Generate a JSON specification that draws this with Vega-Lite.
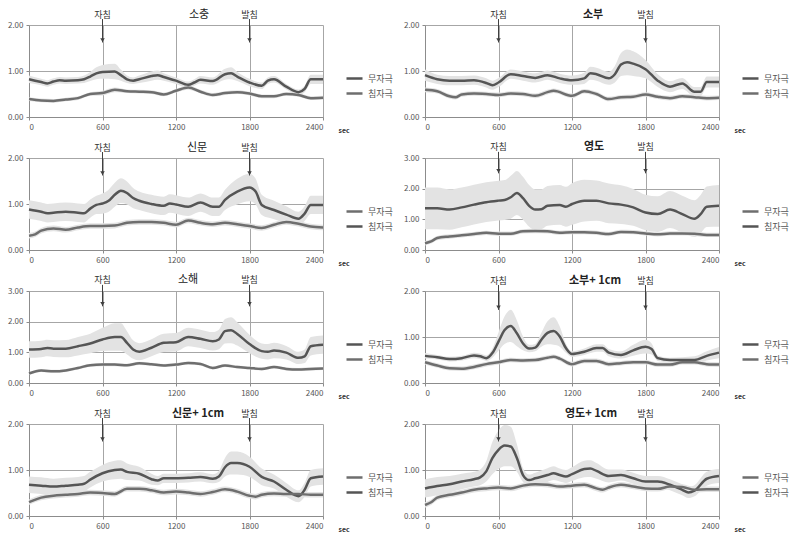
{
"$schema":"https://vega.github.io/schema/vega-lite/v6.json",
"padding":{"left":7,"top":8,"right":0,"bottom":0},
"background":"white",
"datasets":{
"ann":[{"t":600,"label":"자침"},{"t":1800,"label":"발침"}],
"d":[
{"p":1,"s":"무자극","t":0,"v":0.82,"e":0.08},{"p":1,"s":"무자극","t":100,"v":0.76,"e":0.07},{"p":1,"s":"무자극","t":150,"v":0.73,"e":0.07},{"p":1,"s":"무자극","t":200,"v":0.77,"e":0.07},{"p":1,"s":"무자극","t":250,"v":0.8,"e":0.07},{"p":1,"s":"무자극","t":300,"v":0.79,"e":0.07},{"p":1,"s":"무자극","t":400,"v":0.8,"e":0.07},{"p":1,"s":"무자극","t":450,"v":0.82,"e":0.08},{"p":1,"s":"무자극","t":500,"v":0.88,"e":0.1},{"p":1,"s":"무자극","t":550,"v":0.95,"e":0.13},{"p":1,"s":"무자극","t":600,"v":0.98,"e":0.15},{"p":1,"s":"무자극","t":700,"v":0.99,"e":0.17},{"p":1,"s":"무자극","t":750,"v":0.91,"e":0.12},{"p":1,"s":"무자극","t":800,"v":0.82,"e":0.08},{"p":1,"s":"무자극","t":850,"v":0.79,"e":0.07},{"p":1,"s":"무자극","t":900,"v":0.82,"e":0.08},{"p":1,"s":"무자극","t":1000,"v":0.89,"e":0.1},{"p":1,"s":"무자극","t":1050,"v":0.91,"e":0.1},{"p":1,"s":"무자극","t":1100,"v":0.87,"e":0.08},{"p":1,"s":"무자극","t":1200,"v":0.79,"e":0.07},{"p":1,"s":"무자극","t":1300,"v":0.7,"e":0.07},{"p":1,"s":"무자극","t":1350,"v":0.75,"e":0.07},{"p":1,"s":"무자극","t":1400,"v":0.81,"e":0.08},{"p":1,"s":"무자극","t":1500,"v":0.78,"e":0.08},{"p":1,"s":"무자극","t":1600,"v":0.93,"e":0.12},{"p":1,"s":"무자극","t":1650,"v":0.95,"e":0.13},{"p":1,"s":"무자극","t":1700,"v":0.88,"e":0.1},{"p":1,"s":"무자극","t":1800,"v":0.75,"e":0.08},{"p":1,"s":"무자극","t":1900,"v":0.68,"e":0.07},{"p":1,"s":"무자극","t":1950,"v":0.79,"e":0.07},{"p":1,"s":"무자극","t":2000,"v":0.82,"e":0.07},{"p":1,"s":"무자극","t":2100,"v":0.66,"e":0.06},{"p":1,"s":"무자극","t":2200,"v":0.54,"e":0.06},{"p":1,"s":"무자극","t":2250,"v":0.61,"e":0.07},{"p":1,"s":"무자극","t":2300,"v":0.82,"e":0.1},{"p":1,"s":"무자극","t":2400,"v":0.82,"e":0.1},
{"p":1,"s":"침자극","t":0,"v":0.39,"e":0.04},{"p":1,"s":"침자극","t":100,"v":0.36,"e":0.04},{"p":1,"s":"침자극","t":200,"v":0.35,"e":0.04},{"p":1,"s":"침자극","t":300,"v":0.38,"e":0.04},{"p":1,"s":"침자극","t":400,"v":0.41,"e":0.04},{"p":1,"s":"침자극","t":500,"v":0.5,"e":0.04},{"p":1,"s":"침자극","t":600,"v":0.52,"e":0.05},{"p":1,"s":"침자극","t":700,"v":0.59,"e":0.05},{"p":1,"s":"침자극","t":800,"v":0.56,"e":0.04},{"p":1,"s":"침자극","t":900,"v":0.55,"e":0.04},{"p":1,"s":"침자극","t":1000,"v":0.54,"e":0.04},{"p":1,"s":"침자극","t":1100,"v":0.49,"e":0.04},{"p":1,"s":"침자극","t":1200,"v":0.57,"e":0.04},{"p":1,"s":"침자극","t":1300,"v":0.64,"e":0.05},{"p":1,"s":"침자극","t":1400,"v":0.55,"e":0.04},{"p":1,"s":"침자극","t":1500,"v":0.48,"e":0.04},{"p":1,"s":"침자극","t":1600,"v":0.52,"e":0.04},{"p":1,"s":"침자극","t":1700,"v":0.54,"e":0.04},{"p":1,"s":"침자극","t":1800,"v":0.51,"e":0.04},{"p":1,"s":"침자극","t":1900,"v":0.45,"e":0.04},{"p":1,"s":"침자극","t":2000,"v":0.45,"e":0.04},{"p":1,"s":"침자극","t":2100,"v":0.5,"e":0.04},{"p":1,"s":"침자극","t":2200,"v":0.48,"e":0.04},{"p":1,"s":"침자극","t":2300,"v":0.41,"e":0.04},{"p":1,"s":"침자극","t":2400,"v":0.42,"e":0.04},
{"p":2,"s":"무자극","t":0,"v":0.91,"e":0.12},{"p":2,"s":"무자극","t":100,"v":0.82,"e":0.1},{"p":2,"s":"무자극","t":200,"v":0.79,"e":0.1},{"p":2,"s":"무자극","t":300,"v":0.79,"e":0.1},{"p":2,"s":"무자극","t":400,"v":0.8,"e":0.1},{"p":2,"s":"무자극","t":500,"v":0.74,"e":0.1},{"p":2,"s":"무자극","t":550,"v":0.69,"e":0.1},{"p":2,"s":"무자극","t":600,"v":0.75,"e":0.1},{"p":2,"s":"무자극","t":700,"v":0.93,"e":0.1},{"p":2,"s":"무자극","t":800,"v":0.89,"e":0.1},{"p":2,"s":"무자극","t":900,"v":0.85,"e":0.1},{"p":2,"s":"무자극","t":1000,"v":0.91,"e":0.1},{"p":2,"s":"무자극","t":1100,"v":0.84,"e":0.1},{"p":2,"s":"무자극","t":1200,"v":0.8,"e":0.1},{"p":2,"s":"무자극","t":1300,"v":0.84,"e":0.12},{"p":2,"s":"무자극","t":1350,"v":0.95,"e":0.14},{"p":2,"s":"무자극","t":1400,"v":0.93,"e":0.14},{"p":2,"s":"무자극","t":1500,"v":0.84,"e":0.14},{"p":2,"s":"무자극","t":1550,"v":0.93,"e":0.18},{"p":2,"s":"무자극","t":1600,"v":1.14,"e":0.25},{"p":2,"s":"무자극","t":1650,"v":1.19,"e":0.28},{"p":2,"s":"무자극","t":1700,"v":1.16,"e":0.27},{"p":2,"s":"무자극","t":1800,"v":1.04,"e":0.2},{"p":2,"s":"무자극","t":1900,"v":0.79,"e":0.14},{"p":2,"s":"무자극","t":2000,"v":0.66,"e":0.12},{"p":2,"s":"무자극","t":2100,"v":0.73,"e":0.12},{"p":2,"s":"무자극","t":2200,"v":0.55,"e":0.1},{"p":2,"s":"무자극","t":2250,"v":0.55,"e":0.1},{"p":2,"s":"무자극","t":2300,"v":0.76,"e":0.12},{"p":2,"s":"무자극","t":2400,"v":0.76,"e":0.12},
{"p":2,"s":"침자극","t":0,"v":0.59,"e":0.05},{"p":2,"s":"침자극","t":100,"v":0.56,"e":0.05},{"p":2,"s":"침자극","t":200,"v":0.45,"e":0.05},{"p":2,"s":"침자극","t":250,"v":0.43,"e":0.05},{"p":2,"s":"침자극","t":300,"v":0.49,"e":0.05},{"p":2,"s":"침자극","t":400,"v":0.51,"e":0.05},{"p":2,"s":"침자극","t":500,"v":0.5,"e":0.05},{"p":2,"s":"침자극","t":600,"v":0.48,"e":0.05},{"p":2,"s":"침자극","t":700,"v":0.51,"e":0.05},{"p":2,"s":"침자극","t":800,"v":0.5,"e":0.05},{"p":2,"s":"침자극","t":900,"v":0.46,"e":0.05},{"p":2,"s":"침자극","t":1000,"v":0.54,"e":0.05},{"p":2,"s":"침자극","t":1050,"v":0.57,"e":0.05},{"p":2,"s":"침자극","t":1200,"v":0.46,"e":0.05},{"p":2,"s":"침자극","t":1300,"v":0.56,"e":0.05},{"p":2,"s":"침자극","t":1400,"v":0.5,"e":0.05},{"p":2,"s":"침자극","t":1500,"v":0.39,"e":0.05},{"p":2,"s":"침자극","t":1600,"v":0.43,"e":0.05},{"p":2,"s":"침자극","t":1700,"v":0.44,"e":0.05},{"p":2,"s":"침자극","t":1800,"v":0.49,"e":0.05},{"p":2,"s":"침자극","t":1900,"v":0.44,"e":0.05},{"p":2,"s":"침자극","t":2000,"v":0.41,"e":0.05},{"p":2,"s":"침자극","t":2100,"v":0.45,"e":0.05},{"p":2,"s":"침자극","t":2200,"v":0.43,"e":0.05},{"p":2,"s":"침자극","t":2300,"v":0.41,"e":0.05},{"p":2,"s":"침자극","t":2400,"v":0.42,"e":0.05},
{"p":3,"s":"침자극","t":0,"v":0.88,"e":0.2},{"p":3,"s":"침자극","t":100,"v":0.83,"e":0.2},{"p":3,"s":"침자극","t":150,"v":0.8,"e":0.2},{"p":3,"s":"침자극","t":200,"v":0.81,"e":0.2},{"p":3,"s":"침자극","t":300,"v":0.83,"e":0.2},{"p":3,"s":"침자극","t":400,"v":0.81,"e":0.2},{"p":3,"s":"침자극","t":450,"v":0.8,"e":0.2},{"p":3,"s":"침자극","t":500,"v":0.9,"e":0.2},{"p":3,"s":"침자극","t":550,"v":0.98,"e":0.2},{"p":3,"s":"침자극","t":600,"v":1.01,"e":0.22},{"p":3,"s":"침자극","t":650,"v":1.07,"e":0.24},{"p":3,"s":"침자극","t":700,"v":1.2,"e":0.26},{"p":3,"s":"침자극","t":750,"v":1.29,"e":0.27},{"p":3,"s":"침자극","t":800,"v":1.24,"e":0.25},{"p":3,"s":"침자극","t":850,"v":1.13,"e":0.22},{"p":3,"s":"침자극","t":900,"v":1.07,"e":0.2},{"p":3,"s":"침자극","t":1000,"v":1.0,"e":0.2},{"p":3,"s":"침자극","t":1100,"v":0.96,"e":0.2},{"p":3,"s":"침자극","t":1150,"v":1.01,"e":0.2},{"p":3,"s":"침자극","t":1200,"v":0.99,"e":0.2},{"p":3,"s":"침자극","t":1300,"v":0.94,"e":0.2},{"p":3,"s":"침자극","t":1400,"v":1.03,"e":0.2},{"p":3,"s":"침자극","t":1500,"v":0.94,"e":0.2},{"p":3,"s":"침자극","t":1550,"v":0.94,"e":0.2},{"p":3,"s":"침자극","t":1600,"v":1.09,"e":0.22},{"p":3,"s":"침자극","t":1700,"v":1.27,"e":0.28},{"p":3,"s":"침자극","t":1800,"v":1.36,"e":0.3},{"p":3,"s":"침자극","t":1850,"v":1.27,"e":0.28},{"p":3,"s":"침자극","t":1900,"v":0.98,"e":0.22},{"p":3,"s":"침자극","t":2000,"v":0.87,"e":0.2},{"p":3,"s":"침자극","t":2100,"v":0.77,"e":0.18},{"p":3,"s":"침자극","t":2200,"v":0.68,"e":0.15},{"p":3,"s":"침자극","t":2250,"v":0.79,"e":0.16},{"p":3,"s":"침자극","t":2300,"v":0.98,"e":0.2},{"p":3,"s":"침자극","t":2400,"v":0.98,"e":0.2},
{"p":3,"s":"무자극","t":0,"v":0.31,"e":0.06},{"p":3,"s":"무자극","t":50,"v":0.34,"e":0.06},{"p":3,"s":"무자극","t":100,"v":0.42,"e":0.06},{"p":3,"s":"무자극","t":200,"v":0.47,"e":0.06},{"p":3,"s":"무자극","t":300,"v":0.44,"e":0.06},{"p":3,"s":"무자극","t":400,"v":0.49,"e":0.06},{"p":3,"s":"무자극","t":500,"v":0.52,"e":0.06},{"p":3,"s":"무자극","t":600,"v":0.52,"e":0.06},{"p":3,"s":"무자극","t":700,"v":0.53,"e":0.06},{"p":3,"s":"무자극","t":800,"v":0.59,"e":0.06},{"p":3,"s":"무자극","t":900,"v":0.61,"e":0.06},{"p":3,"s":"무자극","t":1000,"v":0.61,"e":0.06},{"p":3,"s":"무자극","t":1100,"v":0.59,"e":0.06},{"p":3,"s":"무자극","t":1200,"v":0.55,"e":0.06},{"p":3,"s":"무자극","t":1300,"v":0.64,"e":0.06},{"p":3,"s":"무자극","t":1400,"v":0.59,"e":0.06},{"p":3,"s":"무자극","t":1500,"v":0.56,"e":0.06},{"p":3,"s":"무자극","t":1600,"v":0.59,"e":0.06},{"p":3,"s":"무자극","t":1700,"v":0.56,"e":0.06},{"p":3,"s":"무자극","t":1800,"v":0.52,"e":0.06},{"p":3,"s":"무자극","t":1900,"v":0.48,"e":0.06},{"p":3,"s":"무자극","t":2000,"v":0.55,"e":0.06},{"p":3,"s":"무자극","t":2100,"v":0.61,"e":0.06},{"p":3,"s":"무자극","t":2200,"v":0.57,"e":0.06},{"p":3,"s":"무자극","t":2300,"v":0.51,"e":0.06},{"p":3,"s":"무자극","t":2400,"v":0.49,"e":0.06},
{"p":4,"s":"침자극","t":0,"v":1.36,"e":0.68},{"p":4,"s":"침자극","t":100,"v":1.36,"e":0.68},{"p":4,"s":"침자극","t":200,"v":1.32,"e":0.66},{"p":4,"s":"침자극","t":300,"v":1.39,"e":0.65},{"p":4,"s":"침자극","t":400,"v":1.48,"e":0.65},{"p":4,"s":"침자극","t":500,"v":1.56,"e":0.65},{"p":4,"s":"침자극","t":600,"v":1.61,"e":0.65},{"p":4,"s":"침자극","t":650,"v":1.63,"e":0.65},{"p":4,"s":"침자극","t":700,"v":1.72,"e":0.7},{"p":4,"s":"침자극","t":750,"v":1.86,"e":0.72},{"p":4,"s":"침자극","t":800,"v":1.69,"e":0.7},{"p":4,"s":"침자극","t":850,"v":1.44,"e":0.68},{"p":4,"s":"침자극","t":900,"v":1.32,"e":0.66},{"p":4,"s":"침자극","t":950,"v":1.33,"e":0.65},{"p":4,"s":"침자극","t":1000,"v":1.44,"e":0.65},{"p":4,"s":"침자극","t":1100,"v":1.47,"e":0.65},{"p":4,"s":"침자극","t":1150,"v":1.41,"e":0.65},{"p":4,"s":"침자극","t":1200,"v":1.5,"e":0.68},{"p":4,"s":"침자극","t":1300,"v":1.61,"e":0.68},{"p":4,"s":"침자극","t":1400,"v":1.61,"e":0.66},{"p":4,"s":"침자극","t":1500,"v":1.52,"e":0.65},{"p":4,"s":"침자극","t":1600,"v":1.48,"e":0.63},{"p":4,"s":"침자극","t":1700,"v":1.39,"e":0.6},{"p":4,"s":"침자극","t":1800,"v":1.22,"e":0.58},{"p":4,"s":"침자극","t":1900,"v":1.17,"e":0.58},{"p":4,"s":"침자극","t":2000,"v":1.32,"e":0.6},{"p":4,"s":"침자극","t":2100,"v":1.17,"e":0.6},{"p":4,"s":"침자극","t":2200,"v":1.02,"e":0.6},{"p":4,"s":"침자극","t":2250,"v":1.17,"e":0.62},{"p":4,"s":"침자극","t":2300,"v":1.41,"e":0.66},{"p":4,"s":"침자극","t":2400,"v":1.44,"e":0.68},
{"p":4,"s":"무자극","t":0,"v":0.22,"e":0.07},{"p":4,"s":"무자극","t":50,"v":0.28,"e":0.07},{"p":4,"s":"무자극","t":100,"v":0.39,"e":0.07},{"p":4,"s":"무자극","t":200,"v":0.44,"e":0.07},{"p":4,"s":"무자극","t":300,"v":0.48,"e":0.07},{"p":4,"s":"무자극","t":400,"v":0.52,"e":0.07},{"p":4,"s":"무자극","t":500,"v":0.56,"e":0.07},{"p":4,"s":"무자극","t":600,"v":0.53,"e":0.07},{"p":4,"s":"무자극","t":700,"v":0.53,"e":0.07},{"p":4,"s":"무자극","t":800,"v":0.61,"e":0.07},{"p":4,"s":"무자극","t":900,"v":0.62,"e":0.07},{"p":4,"s":"무자극","t":1000,"v":0.61,"e":0.07},{"p":4,"s":"무자극","t":1100,"v":0.56,"e":0.07},{"p":4,"s":"무자극","t":1200,"v":0.58,"e":0.07},{"p":4,"s":"무자극","t":1300,"v":0.58,"e":0.07},{"p":4,"s":"무자극","t":1400,"v":0.56,"e":0.07},{"p":4,"s":"무자극","t":1500,"v":0.52,"e":0.07},{"p":4,"s":"무자극","t":1600,"v":0.59,"e":0.07},{"p":4,"s":"무자극","t":1700,"v":0.58,"e":0.07},{"p":4,"s":"무자극","t":1800,"v":0.54,"e":0.07},{"p":4,"s":"무자극","t":1900,"v":0.51,"e":0.07},{"p":4,"s":"무자극","t":2000,"v":0.54,"e":0.07},{"p":4,"s":"무자극","t":2100,"v":0.54,"e":0.07},{"p":4,"s":"무자극","t":2200,"v":0.53,"e":0.07},{"p":4,"s":"무자극","t":2300,"v":0.49,"e":0.07},{"p":4,"s":"무자극","t":2400,"v":0.49,"e":0.07},
{"p":5,"s":"무자극","t":0,"v":1.09,"e":0.27},{"p":5,"s":"무자극","t":100,"v":1.11,"e":0.27},{"p":5,"s":"무자극","t":150,"v":1.14,"e":0.27},{"p":5,"s":"무자극","t":200,"v":1.12,"e":0.27},{"p":5,"s":"무자극","t":300,"v":1.12,"e":0.28},{"p":5,"s":"무자극","t":400,"v":1.2,"e":0.3},{"p":5,"s":"무자극","t":500,"v":1.29,"e":0.32},{"p":5,"s":"무자극","t":600,"v":1.42,"e":0.38},{"p":5,"s":"무자극","t":700,"v":1.5,"e":0.45},{"p":5,"s":"무자극","t":750,"v":1.5,"e":0.45},{"p":5,"s":"무자극","t":800,"v":1.31,"e":0.38},{"p":5,"s":"무자극","t":850,"v":1.09,"e":0.3},{"p":5,"s":"무자극","t":900,"v":1.02,"e":0.28},{"p":5,"s":"무자극","t":1000,"v":1.15,"e":0.28},{"p":5,"s":"무자극","t":1100,"v":1.31,"e":0.3},{"p":5,"s":"무자극","t":1200,"v":1.33,"e":0.3},{"p":5,"s":"무자극","t":1300,"v":1.5,"e":0.3},{"p":5,"s":"무자극","t":1400,"v":1.44,"e":0.3},{"p":5,"s":"무자극","t":1500,"v":1.36,"e":0.3},{"p":5,"s":"무자극","t":1550,"v":1.42,"e":0.32},{"p":5,"s":"무자극","t":1600,"v":1.69,"e":0.4},{"p":5,"s":"무자극","t":1650,"v":1.72,"e":0.42},{"p":5,"s":"무자극","t":1700,"v":1.6,"e":0.38},{"p":5,"s":"무자극","t":1800,"v":1.27,"e":0.3},{"p":5,"s":"무자극","t":1900,"v":1.04,"e":0.25},{"p":5,"s":"무자극","t":1950,"v":1.02,"e":0.25},{"p":5,"s":"무자극","t":2000,"v":1.06,"e":0.25},{"p":5,"s":"무자극","t":2100,"v":0.99,"e":0.22},{"p":5,"s":"무자극","t":2200,"v":0.82,"e":0.2},{"p":5,"s":"무자극","t":2250,"v":0.87,"e":0.22},{"p":5,"s":"무자극","t":2300,"v":1.2,"e":0.3},{"p":5,"s":"무자극","t":2400,"v":1.25,"e":0.3},
{"p":5,"s":"침자극","t":0,"v":0.31,"e":0.05},{"p":5,"s":"침자극","t":100,"v":0.41,"e":0.05},{"p":5,"s":"침자극","t":200,"v":0.38,"e":0.05},{"p":5,"s":"침자극","t":300,"v":0.41,"e":0.05},{"p":5,"s":"침자극","t":400,"v":0.49,"e":0.05},{"p":5,"s":"침자극","t":500,"v":0.58,"e":0.05},{"p":5,"s":"침자극","t":600,"v":0.6,"e":0.05},{"p":5,"s":"침자극","t":700,"v":0.6,"e":0.05},{"p":5,"s":"침자극","t":800,"v":0.58,"e":0.05},{"p":5,"s":"침자극","t":900,"v":0.64,"e":0.05},{"p":5,"s":"침자극","t":1000,"v":0.61,"e":0.05},{"p":5,"s":"침자극","t":1100,"v":0.57,"e":0.05},{"p":5,"s":"침자극","t":1200,"v":0.6,"e":0.05},{"p":5,"s":"침자극","t":1300,"v":0.65,"e":0.05},{"p":5,"s":"침자극","t":1400,"v":0.62,"e":0.05},{"p":5,"s":"침자극","t":1500,"v":0.49,"e":0.05},{"p":5,"s":"침자극","t":1600,"v":0.57,"e":0.05},{"p":5,"s":"침자극","t":1700,"v":0.52,"e":0.05},{"p":5,"s":"침자극","t":1800,"v":0.49,"e":0.05},{"p":5,"s":"침자극","t":1900,"v":0.46,"e":0.05},{"p":5,"s":"침자극","t":2000,"v":0.52,"e":0.05},{"p":5,"s":"침자극","t":2100,"v":0.46,"e":0.05},{"p":5,"s":"침자극","t":2200,"v":0.44,"e":0.05},{"p":5,"s":"침자극","t":2300,"v":0.46,"e":0.05},{"p":5,"s":"침자극","t":2400,"v":0.47,"e":0.05},
{"p":6,"s":"무자극","t":0,"v":0.59,"e":0.06},{"p":6,"s":"무자극","t":100,"v":0.56,"e":0.05},{"p":6,"s":"무자극","t":200,"v":0.52,"e":0.05},{"p":6,"s":"무자극","t":300,"v":0.54,"e":0.05},{"p":6,"s":"무자극","t":400,"v":0.6,"e":0.06},{"p":6,"s":"무자극","t":450,"v":0.58,"e":0.06},{"p":6,"s":"무자극","t":500,"v":0.54,"e":0.06},{"p":6,"s":"무자극","t":550,"v":0.65,"e":0.1},{"p":6,"s":"무자극","t":600,"v":0.9,"e":0.2},{"p":6,"s":"무자극","t":650,"v":1.15,"e":0.3},{"p":6,"s":"무자극","t":700,"v":1.24,"e":0.35},{"p":6,"s":"무자극","t":750,"v":1.08,"e":0.28},{"p":6,"s":"무자극","t":800,"v":0.86,"e":0.15},{"p":6,"s":"무자극","t":850,"v":0.75,"e":0.08},{"p":6,"s":"무자극","t":900,"v":0.77,"e":0.08},{"p":6,"s":"무자극","t":950,"v":0.94,"e":0.15},{"p":6,"s":"무자극","t":1000,"v":1.09,"e":0.25},{"p":6,"s":"무자극","t":1050,"v":1.13,"e":0.3},{"p":6,"s":"무자극","t":1100,"v":1.01,"e":0.22},{"p":6,"s":"무자극","t":1150,"v":0.76,"e":0.1},{"p":6,"s":"무자극","t":1200,"v":0.63,"e":0.06},{"p":6,"s":"무자극","t":1300,"v":0.68,"e":0.07},{"p":6,"s":"무자극","t":1400,"v":0.76,"e":0.08},{"p":6,"s":"무자극","t":1450,"v":0.76,"e":0.08},{"p":6,"s":"무자극","t":1500,"v":0.66,"e":0.08},{"p":6,"s":"무자극","t":1600,"v":0.61,"e":0.08},{"p":6,"s":"무자극","t":1700,"v":0.71,"e":0.12},{"p":6,"s":"무자극","t":1800,"v":0.79,"e":0.15},{"p":6,"s":"무자극","t":1850,"v":0.74,"e":0.12},{"p":6,"s":"무자극","t":1900,"v":0.54,"e":0.06},{"p":6,"s":"무자극","t":2000,"v":0.5,"e":0.05},{"p":6,"s":"무자극","t":2100,"v":0.5,"e":0.06},{"p":6,"s":"무자극","t":2200,"v":0.5,"e":0.08},{"p":6,"s":"무자극","t":2300,"v":0.59,"e":0.1},{"p":6,"s":"무자극","t":2400,"v":0.66,"e":0.12},
{"p":6,"s":"침자극","t":0,"v":0.45,"e":0.05},{"p":6,"s":"침자극","t":100,"v":0.38,"e":0.05},{"p":6,"s":"침자극","t":200,"v":0.32,"e":0.05},{"p":6,"s":"침자극","t":300,"v":0.31,"e":0.05},{"p":6,"s":"침자극","t":400,"v":0.35,"e":0.05},{"p":6,"s":"침자극","t":500,"v":0.41,"e":0.05},{"p":6,"s":"침자극","t":600,"v":0.45,"e":0.05},{"p":6,"s":"침자극","t":700,"v":0.5,"e":0.05},{"p":6,"s":"침자극","t":800,"v":0.49,"e":0.05},{"p":6,"s":"침자극","t":900,"v":0.5,"e":0.05},{"p":6,"s":"침자극","t":1000,"v":0.55,"e":0.05},{"p":6,"s":"침자극","t":1050,"v":0.57,"e":0.05},{"p":6,"s":"침자극","t":1100,"v":0.53,"e":0.05},{"p":6,"s":"침자극","t":1200,"v":0.41,"e":0.05},{"p":6,"s":"침자극","t":1300,"v":0.48,"e":0.05},{"p":6,"s":"침자극","t":1400,"v":0.48,"e":0.05},{"p":6,"s":"침자극","t":1500,"v":0.41,"e":0.05},{"p":6,"s":"침자극","t":1600,"v":0.43,"e":0.05},{"p":6,"s":"침자극","t":1700,"v":0.45,"e":0.05},{"p":6,"s":"침자극","t":1800,"v":0.45,"e":0.05},{"p":6,"s":"침자극","t":1900,"v":0.4,"e":0.05},{"p":6,"s":"침자극","t":2000,"v":0.4,"e":0.05},{"p":6,"s":"침자극","t":2100,"v":0.45,"e":0.05},{"p":6,"s":"침자극","t":2200,"v":0.45,"e":0.05},{"p":6,"s":"침자극","t":2300,"v":0.41,"e":0.05},{"p":6,"s":"침자극","t":2400,"v":0.4,"e":0.05},
{"p":7,"s":"침자극","t":0,"v":0.68,"e":0.18},{"p":7,"s":"침자극","t":100,"v":0.66,"e":0.18},{"p":7,"s":"침자극","t":200,"v":0.64,"e":0.17},{"p":7,"s":"침자극","t":300,"v":0.66,"e":0.17},{"p":7,"s":"침자극","t":400,"v":0.68,"e":0.17},{"p":7,"s":"침자극","t":450,"v":0.7,"e":0.17},{"p":7,"s":"침자극","t":500,"v":0.79,"e":0.17},{"p":7,"s":"침자극","t":600,"v":0.93,"e":0.18},{"p":7,"s":"침자극","t":700,"v":1.0,"e":0.2},{"p":7,"s":"침자극","t":750,"v":1.01,"e":0.2},{"p":7,"s":"침자극","t":800,"v":0.96,"e":0.18},{"p":7,"s":"침자극","t":900,"v":0.92,"e":0.15},{"p":7,"s":"침자극","t":1000,"v":0.8,"e":0.12},{"p":7,"s":"침자극","t":1050,"v":0.77,"e":0.1},{"p":7,"s":"침자극","t":1100,"v":0.82,"e":0.1},{"p":7,"s":"침자극","t":1200,"v":0.82,"e":0.1},{"p":7,"s":"침자극","t":1300,"v":0.83,"e":0.1},{"p":7,"s":"침자극","t":1400,"v":0.85,"e":0.1},{"p":7,"s":"침자극","t":1500,"v":0.81,"e":0.1},{"p":7,"s":"침자극","t":1550,"v":0.86,"e":0.12},{"p":7,"s":"침자극","t":1600,"v":1.06,"e":0.2},{"p":7,"s":"침자극","t":1650,"v":1.15,"e":0.25},{"p":7,"s":"침자극","t":1700,"v":1.15,"e":0.25},{"p":7,"s":"침자극","t":1800,"v":1.07,"e":0.22},{"p":7,"s":"침자극","t":1900,"v":0.85,"e":0.18},{"p":7,"s":"침자극","t":2000,"v":0.75,"e":0.15},{"p":7,"s":"침자극","t":2100,"v":0.57,"e":0.15},{"p":7,"s":"침자극","t":2200,"v":0.43,"e":0.13},{"p":7,"s":"침자극","t":2250,"v":0.57,"e":0.15},{"p":7,"s":"침자극","t":2300,"v":0.82,"e":0.18},{"p":7,"s":"침자극","t":2400,"v":0.86,"e":0.18},
{"p":7,"s":"무자극","t":0,"v":0.3,"e":0.06},{"p":7,"s":"무자극","t":100,"v":0.4,"e":0.06},{"p":7,"s":"무자극","t":200,"v":0.44,"e":0.06},{"p":7,"s":"무자극","t":300,"v":0.46,"e":0.06},{"p":7,"s":"무자극","t":400,"v":0.48,"e":0.06},{"p":7,"s":"무자극","t":500,"v":0.51,"e":0.06},{"p":7,"s":"무자극","t":600,"v":0.5,"e":0.06},{"p":7,"s":"무자극","t":700,"v":0.48,"e":0.06},{"p":7,"s":"무자극","t":800,"v":0.59,"e":0.06},{"p":7,"s":"무자극","t":900,"v":0.59,"e":0.06},{"p":7,"s":"무자극","t":1000,"v":0.56,"e":0.06},{"p":7,"s":"무자극","t":1100,"v":0.51,"e":0.06},{"p":7,"s":"무자극","t":1200,"v":0.53,"e":0.06},{"p":7,"s":"무자극","t":1300,"v":0.51,"e":0.06},{"p":7,"s":"무자극","t":1400,"v":0.48,"e":0.06},{"p":7,"s":"무자극","t":1500,"v":0.52,"e":0.06},{"p":7,"s":"무자극","t":1600,"v":0.58,"e":0.06},{"p":7,"s":"무자극","t":1700,"v":0.53,"e":0.06},{"p":7,"s":"무자극","t":1800,"v":0.44,"e":0.06},{"p":7,"s":"무자극","t":1850,"v":0.42,"e":0.06},{"p":7,"s":"무자극","t":1900,"v":0.46,"e":0.06},{"p":7,"s":"무자극","t":2000,"v":0.49,"e":0.06},{"p":7,"s":"무자극","t":2100,"v":0.48,"e":0.06},{"p":7,"s":"무자극","t":2200,"v":0.48,"e":0.06},{"p":7,"s":"무자극","t":2300,"v":0.46,"e":0.06},{"p":7,"s":"무자극","t":2400,"v":0.46,"e":0.06},
{"p":8,"s":"침자극","t":0,"v":0.6,"e":0.2},{"p":8,"s":"침자극","t":100,"v":0.65,"e":0.2},{"p":8,"s":"침자극","t":200,"v":0.69,"e":0.18},{"p":8,"s":"침자극","t":300,"v":0.75,"e":0.17},{"p":8,"s":"침자극","t":400,"v":0.8,"e":0.16},{"p":8,"s":"침자극","t":450,"v":0.84,"e":0.17},{"p":8,"s":"침자극","t":500,"v":0.97,"e":0.22},{"p":8,"s":"침자극","t":550,"v":1.26,"e":0.35},{"p":8,"s":"침자극","t":600,"v":1.44,"e":0.42},{"p":8,"s":"침자극","t":650,"v":1.53,"e":0.45},{"p":8,"s":"침자극","t":700,"v":1.51,"e":0.43},{"p":8,"s":"침자극","t":750,"v":1.26,"e":0.3},{"p":8,"s":"침자극","t":800,"v":0.89,"e":0.15},{"p":8,"s":"침자극","t":850,"v":0.78,"e":0.12},{"p":8,"s":"침자극","t":900,"v":0.82,"e":0.12},{"p":8,"s":"침자극","t":1000,"v":0.89,"e":0.15},{"p":8,"s":"침자극","t":1050,"v":0.93,"e":0.15},{"p":8,"s":"침자극","t":1100,"v":0.89,"e":0.14},{"p":8,"s":"침자극","t":1150,"v":0.86,"e":0.14},{"p":8,"s":"침자극","t":1200,"v":0.91,"e":0.15},{"p":8,"s":"침자극","t":1300,"v":1.02,"e":0.18},{"p":8,"s":"침자극","t":1350,"v":1.03,"e":0.18},{"p":8,"s":"침자극","t":1400,"v":0.98,"e":0.17},{"p":8,"s":"침자극","t":1500,"v":0.87,"e":0.14},{"p":8,"s":"침자극","t":1600,"v":0.89,"e":0.12},{"p":8,"s":"침자극","t":1700,"v":0.82,"e":0.12},{"p":8,"s":"침자극","t":1800,"v":0.75,"e":0.12},{"p":8,"s":"침자극","t":1900,"v":0.75,"e":0.12},{"p":8,"s":"침자극","t":2000,"v":0.68,"e":0.12},{"p":8,"s":"침자극","t":2100,"v":0.57,"e":0.12},{"p":8,"s":"침자극","t":2150,"v":0.51,"e":0.12},{"p":8,"s":"침자극","t":2200,"v":0.55,"e":0.12},{"p":8,"s":"침자극","t":2300,"v":0.81,"e":0.15},{"p":8,"s":"침자극","t":2400,"v":0.87,"e":0.15},
{"p":8,"s":"무자극","t":0,"v":0.24,"e":0.06},{"p":8,"s":"무자극","t":50,"v":0.3,"e":0.06},{"p":8,"s":"무자극","t":100,"v":0.4,"e":0.06},{"p":8,"s":"무자극","t":200,"v":0.46,"e":0.06},{"p":8,"s":"무자극","t":300,"v":0.51,"e":0.06},{"p":8,"s":"무자극","t":400,"v":0.57,"e":0.06},{"p":8,"s":"무자극","t":500,"v":0.6,"e":0.06},{"p":8,"s":"무자극","t":600,"v":0.62,"e":0.06},{"p":8,"s":"무자극","t":700,"v":0.6,"e":0.06},{"p":8,"s":"무자극","t":800,"v":0.66,"e":0.06},{"p":8,"s":"무자극","t":900,"v":0.69,"e":0.06},{"p":8,"s":"무자극","t":1000,"v":0.68,"e":0.06},{"p":8,"s":"무자극","t":1100,"v":0.64,"e":0.06},{"p":8,"s":"무자극","t":1200,"v":0.66,"e":0.06},{"p":8,"s":"무자극","t":1300,"v":0.68,"e":0.06},{"p":8,"s":"무자극","t":1400,"v":0.6,"e":0.06},{"p":8,"s":"무자극","t":1450,"v":0.57,"e":0.06},{"p":8,"s":"무자극","t":1500,"v":0.62,"e":0.06},{"p":8,"s":"무자극","t":1600,"v":0.68,"e":0.06},{"p":8,"s":"무자극","t":1700,"v":0.64,"e":0.06},{"p":8,"s":"무자극","t":1800,"v":0.6,"e":0.06},{"p":8,"s":"무자극","t":1900,"v":0.59,"e":0.06},{"p":8,"s":"무자극","t":2000,"v":0.64,"e":0.06},{"p":8,"s":"무자극","t":2100,"v":0.63,"e":0.06},{"p":8,"s":"무자극","t":2200,"v":0.57,"e":0.06},{"p":8,"s":"무자극","t":2300,"v":0.58,"e":0.06},{"p":8,"s":"무자극","t":2400,"v":0.58,"e":0.06}
]},
"columns":2,
"spacing":{"row":41,"column":102},
"bounds":"flush",
"resolve":{"scale":{"color":"independent","x":"independent","y":"independent"},"legend":{"color":"independent"}},
"concat":[
{"width":294,"height":92,"title":{"text":"소충","dx":23},
 "layer":[
  {"data":{"name":"d"},"transform":[{"filter":{"field":"p","equal":1}}],"mark":{"type":"errorband","interpolate":"monotone","band":{"color":"#e3e3e3","opacity":1}},"encoding":{"x":{"field":"t","type":"quantitative","scale":{"domain":[0,2400],"nice":false},"axis":{"values":[0,600,1200,1800,2400],"format":"d","title":"sec"}},"y":{"field":"v","type":"quantitative","scale":{"domain":[0,2],"nice":false},"axis":{"values":[0,1,2],"format":".2f","title":null}},"yError":{"field":"e"},"detail":{"field":"s"}}},
  {"data":{"name":"d"},"transform":[{"filter":{"field":"p","equal":1}}],"mark":{"type":"line","interpolate":"monotone","strokeWidth":2.5},"encoding":{"x":{"field":"t","type":"quantitative","axis":{"values":[0,600,1200,1800,2400],"format":"d","title":"sec"}},"y":{"field":"v","type":"quantitative","axis":{"values":[0,1,2],"format":".2f","title":null}},"color":{"field":"s","type":"nominal","scale":{"domain":["무자극","침자극"],"range":["#555555","#6e6e6e"]},"legend":{"title":null,"orient":"none","legendX":316,"legendY":44}}}},
  {"data":{"name":"ann"},"mark":{"type":"rule","color":"#404040"},"encoding":{"x":{"field":"t","type":"quantitative","axis":{"values":[0,600,1200,1800,2400],"format":"d","title":"sec"}},"y":{"datum":1.62,"axis":{"values":[0,1,2],"format":".2f","title":null}},"y2":{"datum":2.13}}},
  {"data":{"name":"ann"},"mark":{"type":"point","shape":"triangle-down","filled":true,"size":20,"color":"#404040","opacity":1},"encoding":{"x":{"field":"t","type":"quantitative","axis":{"values":[0,600,1200,1800,2400],"format":"d","title":"sec"}},"y":{"datum":1.67,"axis":{"values":[0,1,2],"format":".2f","title":null}}}},
  {"data":{"name":"ann"},"mark":{"type":"text","fontSize":9,"color":"#333"},"encoding":{"x":{"field":"t","type":"quantitative","axis":{"values":[0,600,1200,1800,2400],"format":"d","title":"sec"}},"y":{"datum":2.22,"axis":{"values":[0,1,2],"format":".2f","title":null}},"text":{"field":"label"}}}
 ]},
{"width":294,"height":92,"title":{"text":"소부","dx":21,"fontWeight":"bold"},
 "layer":[
  {"data":{"name":"d"},"transform":[{"filter":{"field":"p","equal":2}}],"mark":{"type":"errorband","interpolate":"monotone","band":{"color":"#e3e3e3","opacity":1}},"encoding":{"x":{"field":"t","type":"quantitative","scale":{"domain":[0,2400],"nice":false},"axis":{"values":[0,600,1200,1800,2400],"format":"d","title":"sec"}},"y":{"field":"v","type":"quantitative","scale":{"domain":[0,2],"nice":false},"axis":{"values":[0,1,2],"format":".2f","title":null}},"yError":{"field":"e"},"detail":{"field":"s"}}},
  {"data":{"name":"d"},"transform":[{"filter":{"field":"p","equal":2}}],"mark":{"type":"line","interpolate":"monotone","strokeWidth":2.5},"encoding":{"x":{"field":"t","type":"quantitative","axis":{"values":[0,600,1200,1800,2400],"format":"d","title":"sec"}},"y":{"field":"v","type":"quantitative","axis":{"values":[0,1,2],"format":".2f","title":null}},"color":{"field":"s","type":"nominal","scale":{"domain":["무자극","침자극"],"range":["#555555","#6e6e6e"]},"legend":{"title":null,"orient":"none","legendX":316,"legendY":44}}}},
  {"data":{"name":"ann"},"mark":{"type":"rule","color":"#404040"},"encoding":{"x":{"field":"t","type":"quantitative","axis":{"values":[0,600,1200,1800,2400],"format":"d","title":"sec"}},"y":{"datum":1.62,"axis":{"values":[0,1,2],"format":".2f","title":null}},"y2":{"datum":2.13}}},
  {"data":{"name":"ann"},"mark":{"type":"point","shape":"triangle-down","filled":true,"size":20,"color":"#404040","opacity":1},"encoding":{"x":{"field":"t","type":"quantitative","axis":{"values":[0,600,1200,1800,2400],"format":"d","title":"sec"}},"y":{"datum":1.67,"axis":{"values":[0,1,2],"format":".2f","title":null}}}},
  {"data":{"name":"ann"},"mark":{"type":"text","fontSize":9,"color":"#333"},"encoding":{"x":{"field":"t","type":"quantitative","axis":{"values":[0,600,1200,1800,2400],"format":"d","title":"sec"}},"y":{"datum":2.22,"axis":{"values":[0,1,2],"format":".2f","title":null}},"text":{"field":"label"}}}
 ]},
{"width":294,"height":92,"title":{"text":"신문","dx":21},
 "layer":[
  {"data":{"name":"d"},"transform":[{"filter":{"field":"p","equal":3}}],"mark":{"type":"errorband","interpolate":"monotone","band":{"color":"#e3e3e3","opacity":1}},"encoding":{"x":{"field":"t","type":"quantitative","scale":{"domain":[0,2400],"nice":false},"axis":{"values":[0,600,1200,1800,2400],"format":"d","title":"sec"}},"y":{"field":"v","type":"quantitative","scale":{"domain":[0,2],"nice":false},"axis":{"values":[0,1,2],"format":".2f","title":null}},"yError":{"field":"e"},"detail":{"field":"s"}}},
  {"data":{"name":"d"},"transform":[{"filter":{"field":"p","equal":3}}],"mark":{"type":"line","interpolate":"monotone","strokeWidth":2.5},"encoding":{"x":{"field":"t","type":"quantitative","axis":{"values":[0,600,1200,1800,2400],"format":"d","title":"sec"}},"y":{"field":"v","type":"quantitative","axis":{"values":[0,1,2],"format":".2f","title":null}},"color":{"field":"s","type":"nominal","scale":{"domain":["무자극","침자극"],"range":["#6e6e6e","#555555"]},"legend":{"title":null,"orient":"none","legendX":316,"legendY":44}}}},
  {"data":{"name":"ann"},"mark":{"type":"rule","color":"#404040"},"encoding":{"x":{"field":"t","type":"quantitative","axis":{"values":[0,600,1200,1800,2400],"format":"d","title":"sec"}},"y":{"datum":1.62,"axis":{"values":[0,1,2],"format":".2f","title":null}},"y2":{"datum":2.13}}},
  {"data":{"name":"ann"},"mark":{"type":"point","shape":"triangle-down","filled":true,"size":20,"color":"#404040","opacity":1},"encoding":{"x":{"field":"t","type":"quantitative","axis":{"values":[0,600,1200,1800,2400],"format":"d","title":"sec"}},"y":{"datum":1.67,"axis":{"values":[0,1,2],"format":".2f","title":null}}}},
  {"data":{"name":"ann"},"mark":{"type":"text","fontSize":9,"color":"#333"},"encoding":{"x":{"field":"t","type":"quantitative","axis":{"values":[0,600,1200,1800,2400],"format":"d","title":"sec"}},"y":{"datum":2.22,"axis":{"values":[0,1,2],"format":".2f","title":null}},"text":{"field":"label"}}}
 ]},
{"width":294,"height":92,"title":{"text":"영도","dx":22,"fontWeight":"bold"},
 "layer":[
  {"data":{"name":"d"},"transform":[{"filter":{"field":"p","equal":4}}],"mark":{"type":"errorband","interpolate":"monotone","band":{"color":"#e3e3e3","opacity":1}},"encoding":{"x":{"field":"t","type":"quantitative","scale":{"domain":[0,2400],"nice":false},"axis":{"values":[0,600,1200,1800,2400],"format":"d","title":"sec"}},"y":{"field":"v","type":"quantitative","scale":{"domain":[0,3],"nice":false},"axis":{"values":[0,1,2,3],"format":".2f","title":null}},"yError":{"field":"e"},"detail":{"field":"s"}}},
  {"data":{"name":"d"},"transform":[{"filter":{"field":"p","equal":4}}],"mark":{"type":"line","interpolate":"monotone","strokeWidth":2.5},"encoding":{"x":{"field":"t","type":"quantitative","axis":{"values":[0,600,1200,1800,2400],"format":"d","title":"sec"}},"y":{"field":"v","type":"quantitative","axis":{"values":[0,1,2,3],"format":".2f","title":null}},"color":{"field":"s","type":"nominal","scale":{"domain":["무자극","침자극"],"range":["#6e6e6e","#555555"]},"legend":{"title":null,"orient":"none","legendX":316,"legendY":44}}}},
  {"data":{"name":"ann"},"mark":{"type":"rule","color":"#404040"},"encoding":{"x":{"field":"t","type":"quantitative","axis":{"values":[0,600,1200,1800,2400],"format":"d","title":"sec"}},"y":{"datum":2.5,"axis":{"values":[0,1,2,3],"format":".2f","title":null}},"y2":{"datum":3.2}}},
  {"data":{"name":"ann"},"mark":{"type":"point","shape":"triangle-down","filled":true,"size":20,"color":"#404040","opacity":1},"encoding":{"x":{"field":"t","type":"quantitative","axis":{"values":[0,600,1200,1800,2400],"format":"d","title":"sec"}},"y":{"datum":2.58,"axis":{"values":[0,1,2,3],"format":".2f","title":null}}}},
  {"data":{"name":"ann"},"mark":{"type":"text","fontSize":9,"color":"#333"},"encoding":{"x":{"field":"t","type":"quantitative","axis":{"values":[0,600,1200,1800,2400],"format":"d","title":"sec"}},"y":{"datum":3.35,"axis":{"values":[0,1,2,3],"format":".2f","title":null}},"text":{"field":"label"}}}
 ]},
{"width":294,"height":92,"title":{"text":"소해","dx":12},
 "layer":[
  {"data":{"name":"d"},"transform":[{"filter":{"field":"p","equal":5}}],"mark":{"type":"errorband","interpolate":"monotone","band":{"color":"#e3e3e3","opacity":1}},"encoding":{"x":{"field":"t","type":"quantitative","scale":{"domain":[0,2400],"nice":false},"axis":{"values":[0,600,1200,1800,2400],"format":"d","title":"sec"}},"y":{"field":"v","type":"quantitative","scale":{"domain":[0,3],"nice":false},"axis":{"values":[0,1,2,3],"format":".2f","title":null}},"yError":{"field":"e"},"detail":{"field":"s"}}},
  {"data":{"name":"d"},"transform":[{"filter":{"field":"p","equal":5}}],"mark":{"type":"line","interpolate":"monotone","strokeWidth":2.5},"encoding":{"x":{"field":"t","type":"quantitative","axis":{"values":[0,600,1200,1800,2400],"format":"d","title":"sec"}},"y":{"field":"v","type":"quantitative","axis":{"values":[0,1,2,3],"format":".2f","title":null}},"color":{"field":"s","type":"nominal","scale":{"domain":["무자극","침자극"],"range":["#555555","#6e6e6e"]},"legend":{"title":null,"orient":"none","legendX":316,"legendY":44}}}},
  {"data":{"name":"ann"},"mark":{"type":"rule","color":"#404040"},"encoding":{"x":{"field":"t","type":"quantitative","axis":{"values":[0,600,1200,1800,2400],"format":"d","title":"sec"}},"y":{"datum":2.5,"axis":{"values":[0,1,2,3],"format":".2f","title":null}},"y2":{"datum":3.2}}},
  {"data":{"name":"ann"},"mark":{"type":"point","shape":"triangle-down","filled":true,"size":20,"color":"#404040","opacity":1},"encoding":{"x":{"field":"t","type":"quantitative","axis":{"values":[0,600,1200,1800,2400],"format":"d","title":"sec"}},"y":{"datum":2.58,"axis":{"values":[0,1,2,3],"format":".2f","title":null}}}},
  {"data":{"name":"ann"},"mark":{"type":"text","fontSize":9,"color":"#333"},"encoding":{"x":{"field":"t","type":"quantitative","axis":{"values":[0,600,1200,1800,2400],"format":"d","title":"sec"}},"y":{"datum":3.35,"axis":{"values":[0,1,2,3],"format":".2f","title":null}},"text":{"field":"label"}}}
 ]},
{"width":294,"height":92,"title":{"text":"소부+ 1cm","dx":23,"fontWeight":"bold"},
 "layer":[
  {"data":{"name":"d"},"transform":[{"filter":{"field":"p","equal":6}}],"mark":{"type":"errorband","interpolate":"monotone","band":{"color":"#e3e3e3","opacity":1}},"encoding":{"x":{"field":"t","type":"quantitative","scale":{"domain":[0,2400],"nice":false},"axis":{"values":[0,600,1200,1800,2400],"format":"d","title":"sec"}},"y":{"field":"v","type":"quantitative","scale":{"domain":[0,2],"nice":false},"axis":{"values":[0,1,2],"format":".2f","title":null}},"yError":{"field":"e"},"detail":{"field":"s"}}},
  {"data":{"name":"d"},"transform":[{"filter":{"field":"p","equal":6}}],"mark":{"type":"line","interpolate":"monotone","strokeWidth":2.5},"encoding":{"x":{"field":"t","type":"quantitative","axis":{"values":[0,600,1200,1800,2400],"format":"d","title":"sec"}},"y":{"field":"v","type":"quantitative","axis":{"values":[0,1,2],"format":".2f","title":null}},"color":{"field":"s","type":"nominal","scale":{"domain":["무자극","침자극"],"range":["#555555","#6e6e6e"]},"legend":{"title":null,"orient":"none","legendX":316,"legendY":44}}}},
  {"data":{"name":"ann"},"mark":{"type":"rule","color":"#404040"},"encoding":{"x":{"field":"t","type":"quantitative","axis":{"values":[0,600,1200,1800,2400],"format":"d","title":"sec"}},"y":{"datum":1.59,"axis":{"values":[0,1,2],"format":".2f","title":null}},"y2":{"datum":2.13}}},
  {"data":{"name":"ann"},"mark":{"type":"point","shape":"triangle-down","filled":true,"size":20,"color":"#404040","opacity":1},"encoding":{"x":{"field":"t","type":"quantitative","axis":{"values":[0,600,1200,1800,2400],"format":"d","title":"sec"}},"y":{"datum":1.64,"axis":{"values":[0,1,2],"format":".2f","title":null}}}},
  {"data":{"name":"ann"},"mark":{"type":"text","fontSize":9,"color":"#333"},"encoding":{"x":{"field":"t","type":"quantitative","axis":{"values":[0,600,1200,1800,2400],"format":"d","title":"sec"}},"y":{"datum":2.22,"axis":{"values":[0,1,2],"format":".2f","title":null}},"text":{"field":"label"}}}
 ]},
{"width":294,"height":92,"title":{"text":"신문+ 1cm","dx":22,"fontWeight":"bold"},
 "layer":[
  {"data":{"name":"d"},"transform":[{"filter":{"field":"p","equal":7}}],"mark":{"type":"errorband","interpolate":"monotone","band":{"color":"#e3e3e3","opacity":1}},"encoding":{"x":{"field":"t","type":"quantitative","scale":{"domain":[0,2400],"nice":false},"axis":{"values":[0,600,1200,1800,2400],"format":"d","title":"sec"}},"y":{"field":"v","type":"quantitative","scale":{"domain":[0,2],"nice":false},"axis":{"values":[0,1,2],"format":".2f","title":null}},"yError":{"field":"e"},"detail":{"field":"s"}}},
  {"data":{"name":"d"},"transform":[{"filter":{"field":"p","equal":7}}],"mark":{"type":"line","interpolate":"monotone","strokeWidth":2.5},"encoding":{"x":{"field":"t","type":"quantitative","axis":{"values":[0,600,1200,1800,2400],"format":"d","title":"sec"}},"y":{"field":"v","type":"quantitative","axis":{"values":[0,1,2],"format":".2f","title":null}},"color":{"field":"s","type":"nominal","scale":{"domain":["무자극","침자극"],"range":["#6e6e6e","#555555"]},"legend":{"title":null,"orient":"none","legendX":316,"legendY":44}}}},
  {"data":{"name":"ann"},"mark":{"type":"rule","color":"#404040"},"encoding":{"x":{"field":"t","type":"quantitative","axis":{"values":[0,600,1200,1800,2400],"format":"d","title":"sec"}},"y":{"datum":1.62,"axis":{"values":[0,1,2],"format":".2f","title":null}},"y2":{"datum":2.13}}},
  {"data":{"name":"ann"},"mark":{"type":"point","shape":"triangle-down","filled":true,"size":20,"color":"#404040","opacity":1},"encoding":{"x":{"field":"t","type":"quantitative","axis":{"values":[0,600,1200,1800,2400],"format":"d","title":"sec"}},"y":{"datum":1.67,"axis":{"values":[0,1,2],"format":".2f","title":null}}}},
  {"data":{"name":"ann"},"mark":{"type":"text","fontSize":9,"color":"#333"},"encoding":{"x":{"field":"t","type":"quantitative","axis":{"values":[0,600,1200,1800,2400],"format":"d","title":"sec"}},"y":{"datum":2.22,"axis":{"values":[0,1,2],"format":".2f","title":null}},"text":{"field":"label"}}}
 ]},
{"width":294,"height":92,"title":{"text":"영도+ 1cm","dx":19,"fontWeight":"bold"},
 "layer":[
  {"data":{"name":"d"},"transform":[{"filter":{"field":"p","equal":8}}],"mark":{"type":"errorband","interpolate":"monotone","band":{"color":"#e3e3e3","opacity":1}},"encoding":{"x":{"field":"t","type":"quantitative","scale":{"domain":[0,2400],"nice":false},"axis":{"values":[0,600,1200,1800,2400],"format":"d","title":"sec"}},"y":{"field":"v","type":"quantitative","scale":{"domain":[0,2],"nice":false},"axis":{"values":[0,1,2],"format":".2f","title":null}},"yError":{"field":"e"},"detail":{"field":"s"}}},
  {"data":{"name":"d"},"transform":[{"filter":{"field":"p","equal":8}}],"mark":{"type":"line","interpolate":"monotone","strokeWidth":2.5},"encoding":{"x":{"field":"t","type":"quantitative","axis":{"values":[0,600,1200,1800,2400],"format":"d","title":"sec"}},"y":{"field":"v","type":"quantitative","axis":{"values":[0,1,2],"format":".2f","title":null}},"color":{"field":"s","type":"nominal","scale":{"domain":["무자극","침자극"],"range":["#6e6e6e","#555555"]},"legend":{"title":null,"orient":"none","legendX":316,"legendY":44}}}},
  {"data":{"name":"ann"},"mark":{"type":"rule","color":"#404040"},"encoding":{"x":{"field":"t","type":"quantitative","axis":{"values":[0,600,1200,1800,2400],"format":"d","title":"sec"}},"y":{"datum":1.62,"axis":{"values":[0,1,2],"format":".2f","title":null}},"y2":{"datum":2.13}}},
  {"data":{"name":"ann"},"mark":{"type":"point","shape":"triangle-down","filled":true,"size":20,"color":"#404040","opacity":1},"encoding":{"x":{"field":"t","type":"quantitative","axis":{"values":[0,600,1200,1800,2400],"format":"d","title":"sec"}},"y":{"datum":1.67,"axis":{"values":[0,1,2],"format":".2f","title":null}}}},
  {"data":{"name":"ann"},"mark":{"type":"text","fontSize":9,"color":"#333"},"encoding":{"x":{"field":"t","type":"quantitative","axis":{"values":[0,600,1200,1800,2400],"format":"d","title":"sec"}},"y":{"datum":2.22,"axis":{"values":[0,1,2],"format":".2f","title":null}},"text":{"field":"label"}}}
 ]}
],
"config":{
 "font":"Noto Sans CJK KR",
 "view":{"stroke":null},
 "axis":{"gridColor":"#a6a6a6","gridOpacity":1,"domainColor":"#8c8c8c","tickColor":"#8c8c8c","labelColor":"#555555","labelFontSize":8,"tickSize":3,"labelPadding":3,"grid":true},
 "axisX":{"titleX":309,"titleY":13,"titleAlign":"left","titleBaseline":"middle","titleFontSize":7,"titleFontWeight":"bold","titleColor":"#333","titleAnchor":null},
 "legend":{"symbolType":"stroke","symbolSize":256,"symbolStrokeWidth":2.5,"labelFontSize":9,"labelColor":"#555555","rowPadding":0,"padding":0},
 "title":{"fontSize":11,"color":"#222","anchor":"middle","offset":-9,"fontWeight":"normal"}
}
}
